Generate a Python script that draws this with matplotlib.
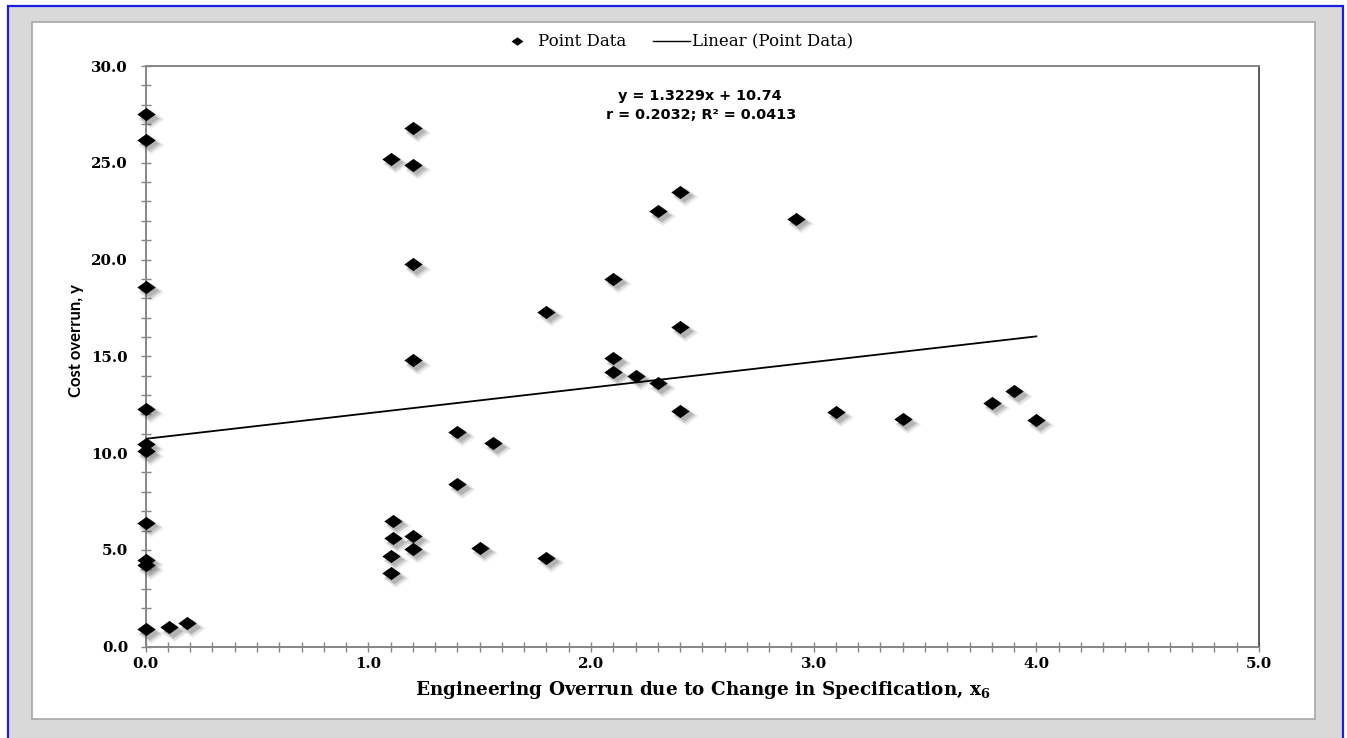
import numpy as np
import matplotlib
matplotlib.use("Agg")
import matplotlib.pyplot as plt
from matplotlib.path import Path
from matplotlib.patches import Rectangle
from matplotlib.lines import Line2D
from matplotlib.transforms import offset_copy
from matplotlib.ticker import MultipleLocator, FormatStrFormatter

# ---------------- data ----------------
x_vals = [0.0, 0.0, 0.0, 0.0, 0.0, 0.0, 0.0, 0.0, 0.0, 0.0,
          0.106, 0.187,
          1.10, 1.11, 1.11, 1.10, 1.10,
          1.20, 1.20, 1.20, 1.20, 1.20, 1.20,
          1.40, 1.40, 1.50, 1.56, 1.80, 1.80,
          2.10, 2.10, 2.10, 2.20, 2.30, 2.30,
          2.40, 2.40, 2.40, 2.92, 3.10, 3.40, 3.80, 3.90, 4.00]
y_vals = [27.5, 26.2, 18.6, 12.3, 10.45, 10.1, 6.4, 4.5, 4.2, 0.9,
          1.0, 1.2,
          25.2, 6.5, 5.6, 4.7, 3.8,
          26.8, 24.9, 19.75, 14.8, 5.7, 5.05,
          11.1, 8.4, 5.1, 10.5, 17.3, 4.6,
          19.0, 14.9, 14.2, 14.0, 22.5, 13.6,
          23.5, 16.5, 12.2, 22.1, 12.1, 11.75, 12.6, 13.2, 11.7]
slope = 1.3229
intercept = 10.74
r_value = 0.2032
r_squared = 0.0413
x_label = "Engineering Overrun due to Change in Specification, $\\mathbf{x_6}$"
y_label = "Cost overrun, y"
legend_labels = ["Point Data", "Linear (Point Data)"]

# ---------------- figure ----------------
W, H = 1347, 738
DPI = 100
plt.rcParams['mathtext.fontset'] = 'dejavuserif'
fig = plt.figure(figsize=(W / DPI, H / DPI), dpi=DPI, facecolor='white')


def fx(px):
    return px / W


def fy(py):
    return 1 - py / H


# outer grey frame with blue border
fig.patches.append(Rectangle((fx(8), fy(745)), fx(1343) - fx(8), fy(6) - fy(745),
                             transform=fig.transFigure, facecolor='#d9d9d9',
                             edgecolor='#1c1ce8', linewidth=1.6, zorder=-3))
# white chart panel
fig.patches.append(Rectangle((fx(32), fy(719)), fx(1315) - fx(32), fy(22) - fy(719),
                             transform=fig.transFigure, facecolor='white',
                             edgecolor='#a6a6a6', linewidth=1.2, zorder=-2))

L, R, T, B = 145.7, 1259, 66, 646.7
ax = fig.add_axes([fx(L), fy(B), fx(R) - fx(L), fy(T) - fy(B)])
ax.set_zorder(1)
ax.set_facecolor('white')
ax.set_xlim(0, 5)
ax.set_ylim(0, 30)

for side in ['left', 'bottom', 'top']:
    ax.spines[side].set_color('#868686')
    ax.spines[side].set_linewidth(1.4)
ax.spines['right'].set_color('#5a5a5a')
ax.spines['right'].set_linewidth(1.4)

ax.xaxis.set_major_locator(MultipleLocator(1.0))
ax.xaxis.set_minor_locator(MultipleLocator(0.1))
ax.yaxis.set_major_locator(MultipleLocator(5.0))
ax.yaxis.set_minor_locator(MultipleLocator(1.0))
ax.xaxis.set_major_formatter(FormatStrFormatter('%.1f'))
ax.yaxis.set_major_formatter(FormatStrFormatter('%.1f'))
ax.tick_params(axis='both', which='both', direction='inout', length=7,
               width=1.0, color='#868686', top=False, right=False)
ax.tick_params(axis='y', which='major', pad=9.2)
ax.tick_params(axis='x', which='major', pad=4)
for lab in ax.get_xticklabels() + ax.get_yticklabels():
    lab.set_fontfamily('DejaVu Serif')
    lab.set_fontweight('bold')
    lab.set_fontsize(10.8)
    lab.set_color('black')

# diamond marker (wider than tall, as in reference)
diamond = Path([(-1, 0), (0, 0.72), (1, 0), (0, -0.72), (-1, 0)],
               [Path.MOVETO, Path.LINETO, Path.LINETO, Path.LINETO, Path.CLOSEPOLY])

x_arr = np.array(x_vals)
y_arr = np.array(y_vals)

# soft drop shadows
for dx, dy, sc, al in [(5, -5, 1.45, 0.06), (4.5, -4.5, 1.3, 0.09),
                       (4, -4, 1.15, 0.13), (3.5, -3.5, 1.0, 0.18)]:
    tr = offset_copy(ax.transData, fig=fig, x=dx, y=dy, units='dots')
    ax.plot(x_arr, y_arr, ls='none', marker=diamond, ms=13.2 * sc, color='#404040',
            mec='none', alpha=al, transform=tr, clip_on=False, zorder=3)

# points
ax.plot(x_arr, y_arr, ls='none', marker=diamond, ms=13.2, color='black',
        mec='none', clip_on=False, zorder=4)

# trend line
xl = np.array([x_arr.min(), x_arr.max()])
ax.plot(xl, slope * xl + intercept, color='black', lw=1.3, zorder=3.5)

# equation text
fig.text(fx(700), fy(96), f"y = {slope:.4f}x + {intercept:.2f}", ha='center', va='center',
         fontfamily='DejaVu Sans', fontweight='bold', fontsize=10.4)
fig.text(fx(701), fy(115), f"r = {r_value:.4f}; R\u00b2 = {r_squared:.4f}", ha='center',
         va='center', fontfamily='DejaVu Sans', fontweight='bold', fontsize=10.4)

# axis labels
ax.set_xlabel(x_label, fontfamily='DejaVu Serif', fontweight='bold', fontsize=13.2)
ax.xaxis.set_label_coords(0.5, (B - 679) / (B - T))
ax.xaxis.label.set_va('top')
fig.text(fx(76), fy(341), y_label, rotation=90, ha='center', va='center',
         fontfamily='Lato', fontweight='bold', fontsize=12)

# legend
handles = [Line2D([], [], ls='none', marker=diamond, ms=8.5, color='black', mec='none'),
           Line2D([], [], color='black', lw=1.0)]
fig.legend(handles, legend_labels, loc='center', bbox_to_anchor=(fx(676), fy(42)),
           ncol=2, frameon=False, prop={'family': 'DejaVu Serif', 'size': 12},
           handlelength=2.2, handletextpad=0.15, columnspacing=1.6, borderpad=0)

fig.savefig('out.png', dpi=DPI, facecolor=fig.get_facecolor())
